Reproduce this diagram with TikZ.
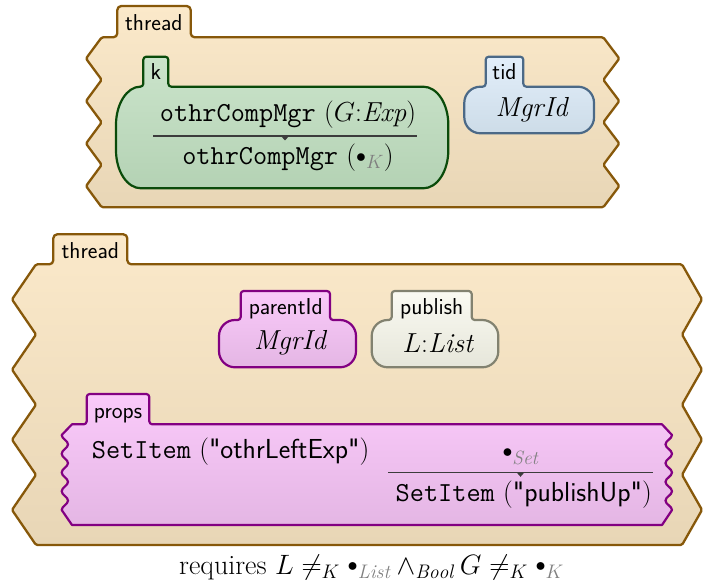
\RequirePackage{fix-cm}
\documentclass[tikz,border=0pt]{standalone}
\usepackage{fontspec}
\definecolor{thrB}{RGB}{135,88,10}
\definecolor{thrT}{RGB}{251,233,202}
\definecolor{thrBo}{RGB}{232,214,182}
\definecolor{kB}{RGB}{10,75,10}
\definecolor{kT}{RGB}{203,228,203}
\definecolor{kBo}{RGB}{180,210,180}
\definecolor{tidB}{RGB}{75,105,135}
\definecolor{tidT}{RGB}{226,238,250}
\definecolor{tidBo}{RGB}{205,220,232}
\definecolor{puB}{RGB}{130,0,130}
\definecolor{puT}{RGB}{250,202,250}
\definecolor{puBo}{RGB}{228,182,228}
\definecolor{pbB}{RGB}{130,130,112}
\definecolor{pbT}{RGB}{250,250,242}
\definecolor{pbBo}{RGB}{230,230,218}
\definecolor{barC}{RGB}{60,60,60}
\newcommand{\qd}{\textquotedbl}
\newcommand{\kbul}{\mathord{\vcenter{\hbox{\scalebox{0.72}{$\bullet$}}}}}
\tikzset{
  threadcell/.style={draw=thrB, line width=2.3pt, top color=thrT, bottom color=thrBo, line join=round},
  kcell/.style={draw=kB, line width=2.2pt, top color=kT, bottom color=kBo, line join=round},
  tidcell/.style={draw=tidB, line width=2.2pt, top color=tidT, bottom color=tidBo, line join=round},
  pucell/.style={draw=puB, line width=2.2pt, top color=puT, bottom color=puBo, line join=round},
  pbcell/.style={draw=pbB, line width=2.2pt, top color=pbT, bottom color=pbBo, line join=round},
  lbl/.style={inner sep=0pt, anchor=base, font=\fontsize{23}{27}\selectfont\sffamily},
  txt/.style={inner sep=0pt, font=\fontsize{27.5}{32}\selectfont},
  bar/.style={draw=barC, line width=1.1pt},
}
\begin{document}
\begin{tikzpicture}[x=1pt,y=-1pt]
\useasboundingbox (0,0) rectangle (703,588);
% ---------- top thread ----------
\draw[threadcell] (101.7,37.3) [rounded corners=4] -- (117.3,37.3) -- (117.3,6) -- (190.7,6) -- (190.7,37.3) -- (400,37.3)
  [rounded corners=1.5] -- (603.3,37.3) -- (619.3,58.55) -- (603.3,79.8) -- (619.3,101.05) -- (603.3,122.3) -- (619.3,143.55) -- (603.3,164.8) -- (619.3,186.05) -- (603.3,207.3)
  -- (101.7,207.3) -- (86,186.05) -- (101.7,164.8) -- (86,143.55) -- (101.7,122.3) -- (86,101.05) -- (101.7,79.8) -- (86,58.55) -- cycle;
\node[lbl] (thr1) at (153.8,30.5) {thread};
% k cell
\draw[kcell] (140,86.7) [rounded corners=3] -- (143.3,86.7) -- (143.3,56.7) -- (168.3,56.7) -- (168.3,86.7) -- (300,86.7) [sharp corners]
  -- (423.3,86.7) .. controls (437.1,86.7) and (448.3,103.7) .. (448.3,124.7) -- (448.3,150.3)
  .. controls (448.3,171.3) and (437.1,188.3) .. (423.3,188.3) -- (141,188.3)
  .. controls (127.2,188.3) and (116,171.3) .. (116,150.3) -- (116,124.7)
  .. controls (116,103.7) and (127.2,86.7) .. (140,86.7) -- cycle;
\node[lbl] (klbl) at (155.8,80) {k};
\node[txt] (ktop) at (288,115) {\texttt{othrCompMgr} $(G{:}\mathit{Exp})$};
\coordinate (kbl) at (153.3,136);
\coordinate (kbr) at (416.7,136);
\draw[bar] (kbl) -- (kbr);
\fill[barC] (281,136) -- (289,136) -- (285,140.5) -- cycle;
\node[txt] (kbot) at (288,158) {\texttt{othrCompMgr} $(\kbul_{\color{gray}K})$};
% tid cell
\draw[tidcell] (481,86.7) [rounded corners=3] -- (485.7,86.7) -- (485.7,56.7) -- (523.3,56.7) -- (523.3,86.7) -- (550,86.7) [sharp corners]
  -- (578,86.7) .. controls (586.8,86.7) and (594,93.9) .. (594,102.7) -- (594,117.3)
  .. controls (594,126.1) and (586.8,133.3) .. (578,133.3) -- (480.3,133.3)
  .. controls (471.5,133.3) and (464.3,126.1) .. (464.3,117.3) -- (464.3,102.7)
  .. controls (464.3,93.9) and (471.5,86.7) .. (480.3,86.7) -- cycle;
\node[lbl] (tidlbl) at (504.5,80) {tid};
\node[txt] (tidv) at (531.7,110) {$\mathit{MgrId}$};
% ---------- bottom thread ----------
\draw[threadcell] (36,264.3) [rounded corners=4] -- (53.3,264.3) -- (53.3,234.3) -- (127.3,234.3) -- (127.3,264.3) -- (400,264.3)
  [rounded corners=1.5] -- (682,264.3) -- (702,299.4) -- (682,334.5) -- (702,369.6) -- (682,404.7) -- (702,439.7) -- (682,474.8) -- (702,509.9) -- (682,545)
  -- (36,545) -- (12,509.9) -- (36,474.8) -- (12,439.7) -- (36,404.7) -- (12,369.6) -- (36,334.5) -- (12,299.4) -- cycle;
\node[lbl] (thr2) at (90.3,258) {thread};
% parentId
\draw[pucell] (236,320) [rounded corners=3] -- (240.7,320) -- (240.7,291) -- (330,291) -- (330,320) -- (336,320) [sharp corners]
  -- (340,320) .. controls (348.8,320) and (356,327.2) .. (356,336) -- (356,351.3)
  .. controls (356,360.1) and (348.8,367.3) .. (340,367.3) -- (235,367.3)
  .. controls (226.2,367.3) and (219,360.1) .. (219,351.3) -- (219,336)
  .. controls (219,327.2) and (226.2,320) .. (235,320) -- cycle;
\node[lbl] (pidlbl) at (285.8,314) {parentId};
\node[txt] (pidv) at (290,343) {$\mathit{MgrId}$};
% publish
\draw[pbcell] (388,320) [rounded corners=3] -- (391.7,320) -- (391.7,291) -- (471.7,291) -- (471.7,320) -- (478,320) [sharp corners]
  -- (482.3,320) .. controls (491.1,320) and (498.3,327.2) .. (498.3,336) -- (498.3,351.3)
  .. controls (498.3,360.1) and (491.1,367.3) .. (482.3,367.3) -- (387.7,367.3)
  .. controls (378.9,367.3) and (371.7,360.1) .. (371.7,351.3) -- (371.7,336)
  .. controls (371.7,327.2) and (378.9,320) .. (387.7,320) -- cycle;
\node[lbl] (publbl) at (431.7,314) {publish};
\node[txt] (pubv) at (438,343) {$L{:}\mathit{List}$};
% props
\draw[pucell] (72,424.3) [rounded corners=3] -- (86.7,424.3) -- (86.7,394) -- (149.3,394) -- (149.3,424.3) -- (300,424.3) [sharp corners]
  -- (662,424.3) -- (672,435)
  .. controls (672,438.75) and (665.5,440.6) .. (665.5,444.4) .. controls (665.5,448.1) and (672,450) .. (672,453.75)
  .. controls (672,457.5) and (665.5,459.35) .. (665.5,463.1) .. controls (665.5,466.85) and (672,468.75) .. (672,472.5)
  .. controls (672,476.25) and (665.5,478.15) .. (665.5,481.9) .. controls (665.5,485.65) and (672,487.5) .. (672,491.25)
  .. controls (672,495) and (665.5,496.85) .. (665.5,500.6) .. controls (665.5,504.35) and (672,506.25) .. (672,510)
  -- (662,525) -- (72,525) -- (61.7,510)
  .. controls (61.7,506.25) and (68,504.35) .. (68,500.6) .. controls (68,496.85) and (61.7,495) .. (61.7,491.25)
  .. controls (61.7,487.5) and (68,485.65) .. (68,481.9) .. controls (68,478.15) and (61.7,476.25) .. (61.7,472.5)
  .. controls (61.7,468.75) and (68,466.85) .. (68,463.1) .. controls (68,459.35) and (61.7,457.5) .. (61.7,453.75)
  .. controls (61.7,450) and (68,448.1) .. (68,444.4) .. controls (68,440.6) and (61.7,438.75) .. (61.7,435) -- cycle;
\node[lbl] (proplbl) at (118,418) {props};
\node[txt, anchor=west] (s1) at (91.7,451.7) {\texttt{SetItem} $($\textsf{\qd othrLeftExp\qd}$)$};
\node[txt] (sdot) at (520.5,457) {$\kbul_{\color{gray}\mathit{Set}}$};
\coordinate (pbl) at (388,472.3);
\coordinate (pbr) at (653.3,472.3);
\draw[bar] (pbl) -- (pbr);
\fill[barC] (516.5,472.3) -- (524.5,472.3) -- (520.5,476.8) -- cycle;
\node[txt, anchor=east] (s2) at (652,495) {\texttt{SetItem} $($\textsf{\qd publishUp\qd}$)$};
% requires
\node[inner sep=0pt, anchor=base, font=\fontsize{28}{33}\selectfont] (req) at (371.5,574) {requires $L \neq_K \kbul_{\color{gray}\mathit{List}} \wedge_{\mathit{Bool}} G \neq_K \kbul_{\color{gray}K}$};
\end{tikzpicture}
\end{document}
